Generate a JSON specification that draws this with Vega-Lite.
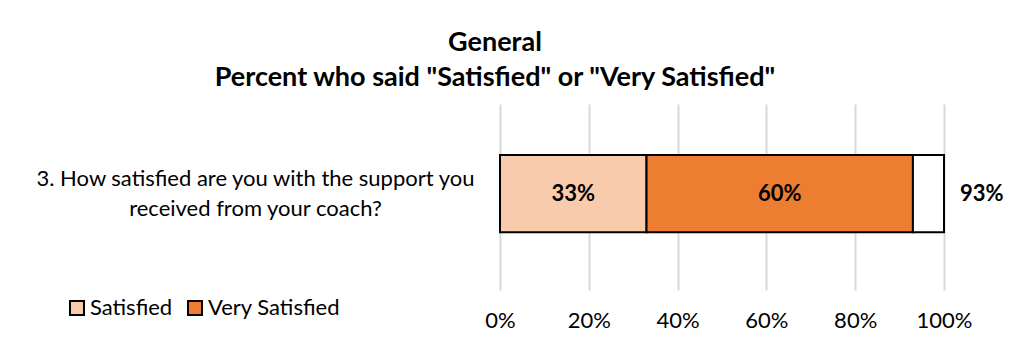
{
  "$schema": "https://vega.github.io/schema/vega-lite/v6.json",
  "width": 444,
  "height": 186,
  "autosize": {"type": "none"},
  "padding": {"left": 500, "top": 104, "right": 78, "bottom": 52},
  "background": "white",
  "title": {
    "text": ["General", "Percent who said \"Satisfied\" or \"Very Satisfied\""],
    "font": "Lato",
    "fontSize": 27,
    "fontWeight": "bold",
    "color": "black",
    "anchor": "middle",
    "dx": -227,
    "offset": 12,
    "lineHeight": 35
  },
  "config": {
    "font": "Lato",
    "view": {"stroke": null}
  },
  "datasets": {
    "segments": [
      {"question": "3. How satisfied are you with the support you received from your coach?", "category": "Satisfied", "rank": 1, "value": 33, "label": "33%"},
      {"question": "3. How satisfied are you with the support you received from your coach?", "category": "Very Satisfied", "rank": 2, "value": 60, "label": "60%"},
      {"question": "3. How satisfied are you with the support you received from your coach?", "category": "Remaining", "rank": 3, "value": 7, "label": ""}
    ],
    "totals": [
      {"question": "3. How satisfied are you with the support you received from your coach?", "total": 93, "label": "93%"}
    ]
  },
  "layer": [
    {
      "data": {"name": "segments"},
      "transform": [
        {"stack": "value", "groupby": ["question"], "sort": [{"field": "rank", "order": "ascending"}], "as": ["x0", "x1"]}
      ],
      "mark": {"type": "bar", "stroke": "black", "strokeWidth": 2, "height": {"band": 0.448}},
      "encoding": {
        "y": {
          "field": "question",
          "type": "nominal",
          "scale": {"paddingInner": 0, "paddingOuter": 0.04, "align": 0.25},
          "axis": {
            "title": null,
            "domain": false,
            "ticks": false,
            "labelAlign": "center",
            "labelPadding": 245,
            "labelFontSize": 22,
            "labelFont": "Lato",
            "labelColor": "black",
            "labelLimit": 600,
            "labelLineHeight": 30,
            "labelOffset": -15,
            "labelExpr": "['3. How satisfied are you with the support you', 'received from your coach?']"
          }
        },
        "x": {
          "field": "x0",
          "type": "quantitative",
          "scale": {"domain": [0, 100]},
          "axis": {
            "title": null,
            "values": [0, 20, 40, 60, 80, 100],
            "labelExpr": "datum.value + '%'",
            "domain": false,
            "ticks": false,
            "grid": true,
            "gridColor": "#d9d9d9",
            "gridWidth": 2,
            "labelFontSize": 22,
            "labelColor": "black",
            "labelPadding": 20,
            "labelFlush": false
          }
        },
        "x2": {"field": "x1"},
        "color": {
          "field": "category",
          "type": "nominal",
          "scale": {"domain": ["Satisfied", "Very Satisfied", "Remaining"], "range": ["#F8CBAD", "#ED7D31", "#FFFFFF"]},
          "legend": {
            "title": null,
            "values": ["Satisfied", "Very Satisfied"],
            "orient": "none",
            "legendX": -434,
            "legendY": 193,
            "direction": "horizontal",
            "symbolType": "square",
            "symbolSize": 196,
            "symbolStrokeColor": "black",
            "symbolStrokeWidth": 2,
            "symbolOpacity": 1,
            "labelFontSize": 22,
            "labelColor": "black",
            "labelOffset": 2,
            "columnPadding": 11
          }
        }
      }
    },
    {
      "data": {"name": "segments"},
      "transform": [
        {"stack": "value", "groupby": ["question"], "sort": [{"field": "rank", "order": "ascending"}], "as": ["x0", "x1"]},
        {"calculate": "(datum.x0 + datum.x1) / 2", "as": "mid"}
      ],
      "mark": {"type": "text", "fontSize": 22, "fontWeight": "bold", "color": "black", "align": "center", "baseline": "middle"},
      "encoding": {
        "y": {"field": "question", "type": "nominal"},
        "x": {"field": "mid", "type": "quantitative"},
        "text": {"field": "label"}
      }
    },
    {
      "data": {"name": "totals"},
      "mark": {"type": "text", "fontSize": 22, "fontWeight": "bold", "color": "black", "align": "left", "baseline": "middle", "dx": 16},
      "encoding": {
        "y": {"field": "question", "type": "nominal"},
        "x": {"datum": 100},
        "text": {"field": "label"}
      }
    }
  ]
}
